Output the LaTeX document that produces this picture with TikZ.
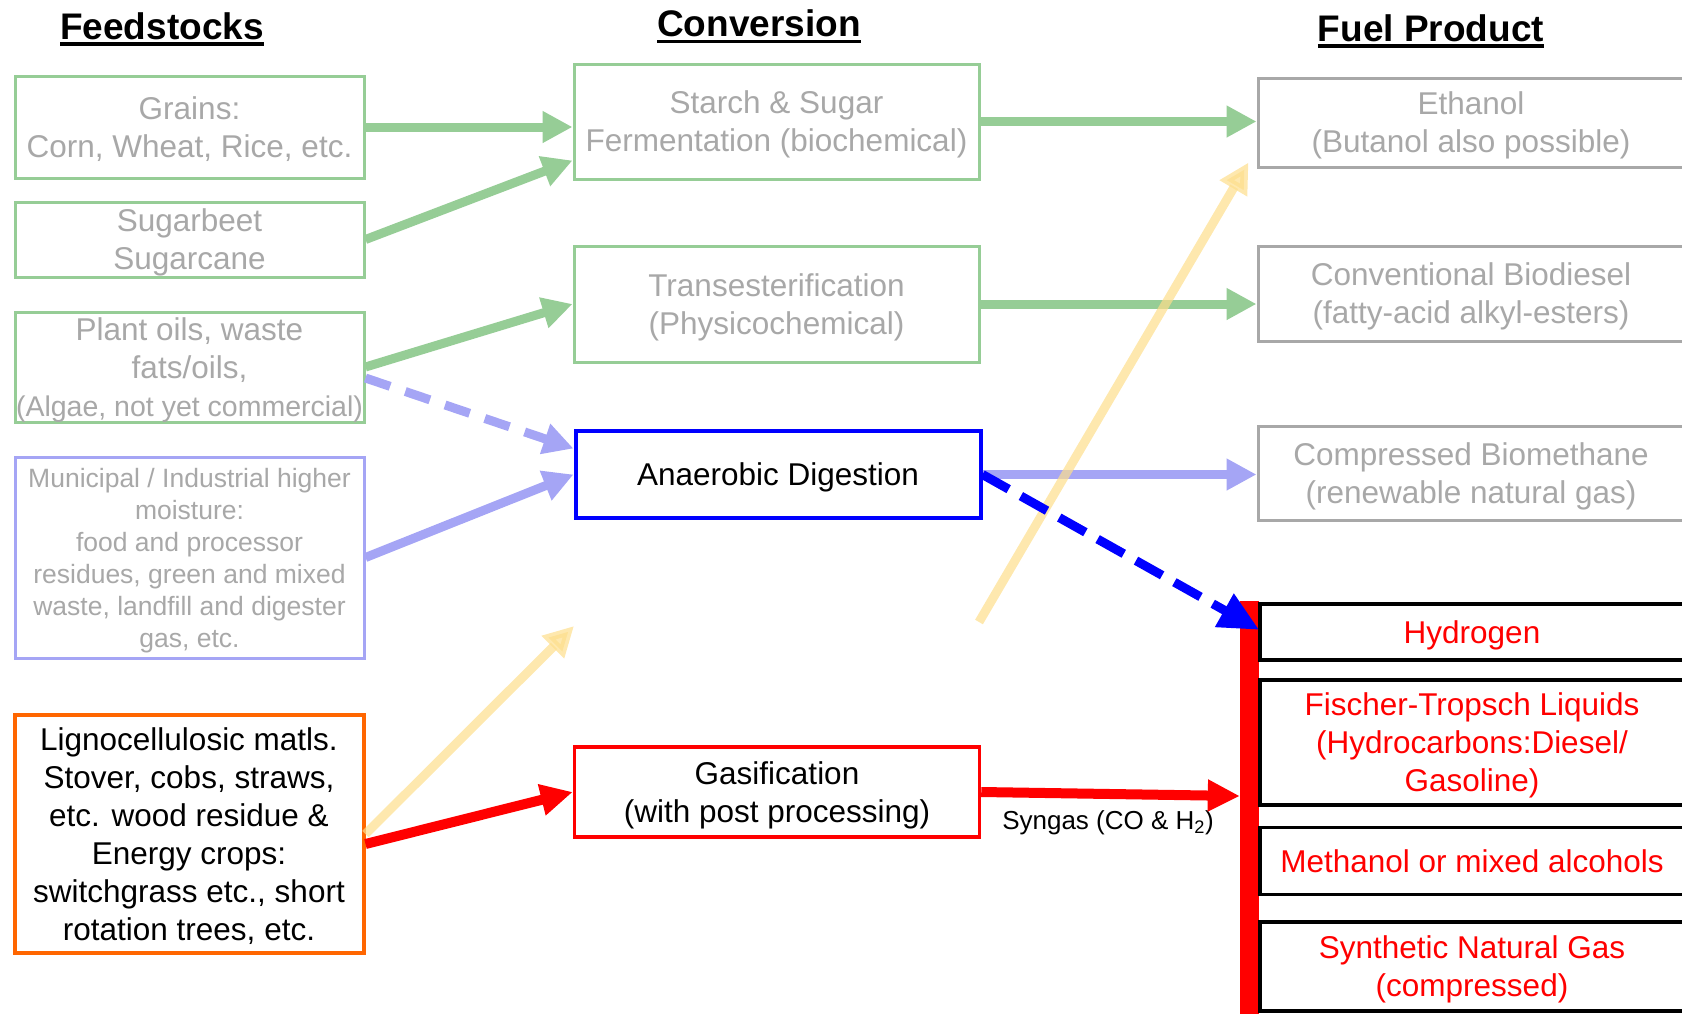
\documentclass[tikz,border=0pt]{standalone}
\usepackage{fontspec}
\setmainfont{Liberation Sans}
\usetikzlibrary{arrows.meta}
\definecolor{paleGreen}{RGB}{150,205,150}
\definecolor{paleBlue}{RGB}{165,165,245}
\definecolor{paleYellow}{RGB}{253,222,140}
\definecolor{paleGrey}{RGB}{168,168,168}
\definecolor{lignoOrange}{RGB}{255,102,0}

\begin{document}
\begin{tikzpicture}[x=1pt,y=-1pt,
  ttl/.style={font=\fontsize{37}{44}\selectfont\bfseries, inner sep=0pt, anchor=base},
  stagebox/.style={font=\fontsize{31.5}{38}\selectfont, align=center, inner sep=0pt, text depth=0pt, draw, line width=3pt, fill=white},
  feedbox/.style={stagebox, draw=paleGreen, text=paleGrey, minimum width=349pt},
  convbox/.style={stagebox, draw=paleGreen, text=paleGrey, minimum width=405pt},
  fuelbox/.style={stagebox, draw=paleGrey, text=paleGrey, minimum width=426pt},
  synbox/.style={stagebox, draw=black, text=red, line width=3.5pt, minimum width=424pt},
  garrow/.style={draw=paleGreen, line width=9pt, -{Triangle[length=30pt,width=30pt]}},
  barrow/.style={draw=paleBlue, line width=9pt, -{Triangle[length=30pt,width=30pt]}},
  yarrow/.style={draw=paleYellow, opacity=.7, line width=9pt, -{Triangle[length=30pt,width=30pt]}},
  rarrow/.style={draw=red, line width=10pt, -{Triangle[length=32pt,width=30pt]}}]
\useasboundingbox (0,0) rectangle (1682,1013);
% headings
\node[ttl] (tfeed) at (162,39) {Feedstocks};
\node[ttl] (tconv) at (759,36.5) {Conversion};
\node[ttl] (tfuel) at (1431,41) {Fuel Product};
\draw[line width=3.5pt] ([yshift=-5pt]tfeed.base west) -- ([yshift=-5pt]tfeed.base east);
\draw[line width=3.5pt] ([yshift=-5pt]tconv.base west) -- ([yshift=-5pt]tconv.base east);
\draw[line width=3.5pt] ([yshift=-5pt]tfuel.base west) -- ([yshift=-5pt]tfuel.base east);
% feedstocks
\node[feedbox, minimum height=102pt] (grains) at (189.5,127) {Grains:\\Corn, Wheat, Rice, etc.};
\node[feedbox, minimum height=75pt] (sugar) at (189.5,239.5) {Sugarbeet\\Sugarcane};
\node[feedbox, minimum height=110pt] (oils) at (189.5,367) {Plant oils, waste\\fats/oils,\\{\fontsize{28.5}{34}\selectfont(Algae, not yet commercial)}};
\node[feedbox, draw=paleBlue, font=\fontsize{26.5}{32}\selectfont, minimum height=201pt] (muni) at (189.5,557.5) {Municipal / Industrial higher\\moisture:\\food and processor\\residues, green and mixed\\waste, landfill and digester\\gas, etc.};
\node[feedbox, draw=lignoOrange, text=black, line width=4pt, minimum height=238pt] (ligno) at (189,834) {Lignocellulosic matls.\\Stover, cobs, straws,\\etc. wood residue \&\\Energy crops:\\switchgrass etc., short\\rotation trees, etc.};
% conversion
\node[convbox, minimum height=115pt] (starch) at (776.5,121.5) {Starch \& Sugar\\Fermentation (biochemical)};
\node[convbox, minimum height=116pt] (trans) at (776.5,304) {Transesterification\\(Physicochemical)};
\node[convbox, draw=blue, text=black, line width=4pt, minimum height=87pt] (ad) at (778,474.5) {Anaerobic Digestion};
\node[convbox, draw=red, text=black, line width=3.5pt, minimum height=90pt] (gas) at (777,792) {Gasification\\(with post processing)};
% fuel products
\node[fuelbox, minimum height=89pt] (eth) at (1471,122.5) {Ethanol\\(Butanol also possible)};
\node[fuelbox, minimum height=95pt] (bio) at (1471,293.5) {Conventional Biodiesel\\(fatty-acid alkyl-esters)};
\node[fuelbox, minimum height=94pt] (meth) at (1471,473) {Compressed Biomethane\\(renewable natural gas)};
\node[fill=red, inner sep=0pt, minimum width=19pt, minimum height=420pt] (bar) at (1249.5,811) {};
\node[synbox, minimum height=56pt] (hyd) at (1472,632) {Hydrogen};
\node[synbox, minimum height=125pt] (ft) at (1472,742.5) {Fischer-Tropsch Liquids\\(Hydrocarbons:Diesel/\\Gasoline)};
\node[synbox, minimum height=67pt] (meoh) at (1472,861) {Methanol or mixed alcohols};
\node[synbox, minimum height=89pt] (sng) at (1472,966.5) {Synthetic Natural Gas\\(compressed)};
\node[font=\fontsize{26}{30}\selectfont, inner sep=0pt] (syn) at (1108,823) {Syngas (CO \& H\textsubscript{2})};
% arrows
\draw[garrow] (grains.east) -- (grains.east -| starch.west);
\draw[garrow] (sugar.east) -- ([yshift=-39pt]starch.west);
\draw[garrow] (oils.east) -- (trans.west);
\draw[garrow] (starch.east) -- (starch.east -| eth.west);
\draw[garrow] (trans.east) -- (trans.east -| bio.west);
\draw[barrow, dash pattern=on 26pt off 16pt] ([yshift=-11pt]oils.east) -- ([yshift=26pt]ad.west);
\draw[barrow] (muni.east) -- (ad.west);
\draw[barrow] (ad.east) -- (ad.east -| meth.west);
\coordinate (yend) at (574,626);
\coordinate (ystart) at (979,622);
\draw[yarrow] (ligno.east) -- (yend);
\draw[yarrow] (ystart) -- ([shift={(-8pt,6pt)}]eth.south west);
\draw[rarrow] ([yshift=-10pt]ligno.east) -- (gas.west);
\draw[rarrow] (gas.east) -- ([yshift=15pt]bar.west);
\draw[draw=blue, line width=9pt, dash pattern=on 30pt off 14pt, -{Triangle[length=40pt,width=36pt]}] (ad.east) -- ([yshift=-29pt]bar.north east);
\end{tikzpicture}
\end{document}
